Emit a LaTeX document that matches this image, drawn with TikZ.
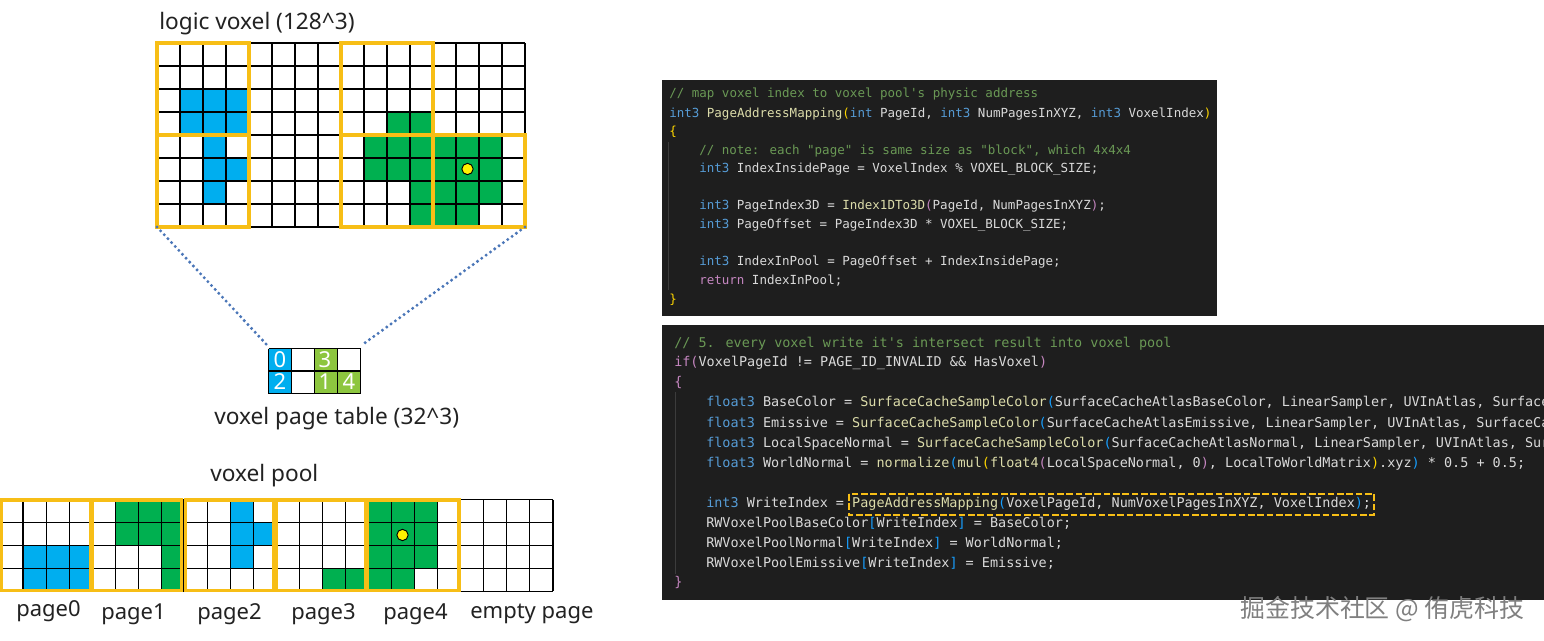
\documentclass[tikz,border=0pt]{standalone}
\usepackage{fontspec}
\setmainfont{Noto Sans}
\newfontfamily\codefont{DejaVu Sans Mono}
\newfontfamily\cjkfont{Noto Sans CJK SC}
\definecolor{bluec}{HTML}{00AEEF}
\definecolor{greenc}{HTML}{00B050}
\definecolor{lgreenc}{HTML}{8DC63F}
\definecolor{orangec}{HTML}{F7BE16}
\definecolor{dotc}{HTML}{4A76B8}
\definecolor{labelc}{HTML}{222222}
\definecolor{panelc}{HTML}{1E1E1E}
\definecolor{guidec}{HTML}{3C3C3C}
\definecolor{codec}{HTML}{DADADA}
\definecolor{kwc}{HTML}{569CD6}
\definecolor{fnc}{HTML}{DCDCAA}
\definecolor{cmc}{HTML}{6A9955}
\definecolor{goldc}{HTML}{FFD700}
\definecolor{purc}{HTML}{C586C0}
\definecolor{bluepc}{HTML}{179FFF}
\newcommand{\ckw}[1]{\textcolor{kwc}{#1}}
\newcommand{\cfn}[1]{\textcolor{fnc}{#1}}
\newcommand{\ccm}[1]{\textcolor{cmc}{#1}}
\newcommand{\cgo}[1]{\textcolor{goldc}{#1}}
\newcommand{\cpu}[1]{\textcolor{purc}{#1}}
\newcommand{\cbl}[1]{\textcolor{bluepc}{#1}}
\tikzset{
  x=0.75pt,y=-0.75pt,
  lbl/.style={inner sep=0pt,text=labelc,font=\fontsize{16.5pt}{18pt}\selectfont},
  headlbl/.style={inner sep=0pt,text=labelc,font=\fontsize{17pt}{19pt}\selectfont},
  digit/.style={inner sep=0pt,text=white,font=\fontsize{16.5pt}{18pt}\selectfont},
  gridline/.style={black,line width=0.85pt},
  pagebox/.style={orangec,line width=2.4pt},
  dotline/.style={dotc,line width=2.5pt,line cap=round,dash pattern=on 0pt off 4pt},
  codea/.style={inner sep=0pt,anchor=base west,text=codec,font=\codefont\fontsize{9.38pt}{11pt}\selectfont},
  codeb/.style={inner sep=0pt,anchor=base west,text=codec,font=\codefont\fontsize{10.1pt}{12pt}\selectfont},
  guide/.style={guidec,line width=0.75pt},
  spot/.style={circle,draw=black,fill=yellow,line width=0.7pt,inner sep=0pt,minimum size=8.5pt},
}
\begin{document}
\begin{tikzpicture}
\useasboundingbox (0,0) rectangle (1544,641);
\fill[white] (0,0) rectangle (1544,641);
% ---------- logic voxel
\foreach \c/\r in {1/2,2/2,3/2,1/3,2/3,3/3,2/4,2/5,3/5,2/6}
  \fill[bluec] ({157+23*\c},{43+23*\r}) rectangle +(23,23);
\foreach \c/\r in {10/3,11/3,9/4,10/4,11/4,12/4,13/4,14/4,9/5,10/5,11/5,12/5,13/5,14/5,11/6,12/6,13/6,14/6,11/7,12/7,13/7}
  \fill[greenc] ({157+23*\c},{43+23*\r}) rectangle +(23,23);
\foreach \i in {0,...,16} \draw[gridline] ({157+23*\i},43) -- ({157+23*\i},227);
\foreach \i in {0,...,8} \draw[gridline] (157,{43+23*\i}) -- (525,{43+23*\i});
\foreach \x/\y in {157/43,341/43,157/135,341/135,433/135}
  \draw[pagebox] (\x,\y) rectangle +(92,92);
\node[spot] (dotlogic) at (467.5,169) {};
\coordinate (logicSW) at (157,227);
\coordinate (logicSE) at (525,227);
\node[headlbl,anchor=base west] (logiclabel) at (159,30) {logic voxel (128\textasciicircum3)};
% ---------- page table
\foreach \c/\r in {0/0,0/1}
  \fill[bluec] ({268.5+23*\c},{348.5+22.5*\r}) rectangle +(23,22.5);
\foreach \c/\r in {2/0,2/1,3/1}
  \fill[lgreenc] ({268.5+23*\c},{348.5+22.5*\r}) rectangle +(23,22.5);
\foreach \i in {0,...,4} \draw[gridline] ({268.5+23*\i},348.5) -- ({268.5+23*\i},393.5);
\foreach \i in {0,...,2} \draw[gridline] (268.5,{348.5+22.5*\i}) -- (360.5,{348.5+22.5*\i});
\node[digit] (pt0) at (280,360) {0};
\node[digit] (pt3) at (325,360) {3};
\node[digit] (pt2) at (280,382) {2};
\node[digit] (pt1) at (325,382) {1};
\node[digit] (pt4) at (349,382) {4};
\coordinate (tableNW) at (267,345);
\coordinate (tableNE) at (362,345);
\draw[dotline] (logicSW) -- (tableNW);
\draw[dotline] (logicSE) -- (tableNE);
\node[headlbl,anchor=base west] (tablelabel) at (214,424) {voxel page table (32\textasciicircum3)};
% ---------- voxel pool
\node[headlbl,anchor=base west] (poollabel) at (210,481) {voxel pool};
\foreach \c/\r in {1/2,2/2,3/2,1/3,2/3,3/3,10/0,10/1,11/1,10/2}
  \fill[bluec] ({0+23*\c},{499.5+22.9*\r}) rectangle +(23,22.9);
\foreach \c/\r in {5/0,6/0,7/0,5/1,6/1,7/1,7/2,7/3,14/3,15/3,16/0,17/0,18/0,16/1,17/1,18/1,16/2,17/2,18/2,16/3,17/3}
  \fill[greenc] ({0+23*\c},{499.5+22.9*\r}) rectangle +(23,22.9);
\foreach \i in {0,...,24} \draw[gridline] ({0+23.04*\i},499.5) -- ({0+23.04*\i},591);
\foreach \i in {0,...,4} \draw[gridline] (0,{499.5+22.9*\i}) -- (553,{499.5+22.9*\i});
\foreach \xa/\xb in {1.5/90.5,92.5/181.5,185.5/274,276/366,367.5/459}
  \draw[pagebox] (\xa,500) rectangle (\xb,590.5);
\draw[gridline] (183.5,499.5) -- (183.5,591);
\node[spot] (dotpool) at (402.5,535) {};
\node[lbl,anchor=base west] (page0) at (16,616) {page0};
\node[lbl,anchor=base west] (page1) at (101,619) {page1};
\node[lbl,anchor=base west] (page2) at (197,619) {page2};
\node[lbl,anchor=base west] (page3) at (291,619) {page3};
\node[lbl,anchor=base west] (page4) at (383,619) {page4};
\node[lbl,anchor=base west] (emptypage) at (470,618) {empty page};
% ---------- code panel 1
\fill[panelc] (662,80) rectangle (1217,316);
\draw[guide] (668,142) -- (668,290);
\node[codea] (a1) at (669,98) {\ccm{// map voxel index to voxel pool's physic address}};
\node[codea] (a2) at (669,117.5) {\ckw{int3} \cfn{PageAddressMapping}\cgo{(}\ckw{int} PageId, \ckw{int3} NumPagesInXYZ, \ckw{int3} VoxelIndex\cgo{)}};
\node[codea] (a3) at (669,136) {\cgo{\{}};
\node[codea] (a4) at (699,154.5) {\ccm{// note: each "page" is same size as "block", which 4x4x4}};
\node[codea] (a5) at (699,173) {\ckw{int3} IndexInsidePage = VoxelIndex \% VOXEL\_BLOCK\_SIZE;};
\node[codea] (a6) at (699,210) {\ckw{int3} PageIndex3D = \cfn{Index1DTo3D}\cpu{(}PageId, NumPagesInXYZ\cpu{)};};
\node[codea] (a7) at (699,229) {\ckw{int3} PageOffset = PageIndex3D * VOXEL\_BLOCK\_SIZE;};
\node[codea] (a8) at (699,266) {\ckw{int3} IndexInPool = PageOffset + IndexInsidePage;};
\node[codea] (a9) at (699,285) {\cpu{return} IndexInPool;};
\node[codea] (a10) at (669,303.5) {\cgo{\}}};
% ---------- code panel 2
\fill[panelc] (662,325) rectangle (1544,600);
\draw[guide] (675,392) -- (675,574);
\begin{scope}
\clip (662,325) rectangle (1544,600);
\node[codeb] (b1) at (674,347) {\ccm{// 5. every voxel write it's intersect result into voxel pool}};
\node[codeb] (b2) at (674,366.5) {\cpu{if(}VoxelPageId != PAGE\_ID\_INVALID \&\& HasVoxel\cpu{)}};
\node[codeb] (b3) at (674,386.5) {\cpu{\{}};
\node[codeb] (b4) at (706,406.5) {\ckw{float3} BaseColor = \cfn{SurfaceCacheSampleColor}\cbl{(}SurfaceCacheAtlasBaseColor, LinearSampler, UVInAtlas, Surface};
\node[codeb] (b5) at (706,427) {\ckw{float3} Emissive = \cfn{SurfaceCacheSampleColor}\cbl{(}SurfaceCacheAtlasEmissive, LinearSampler, UVInAtlas, SurfaceCa};
\node[codeb] (b6) at (706,447) {\ckw{float3} LocalSpaceNormal = \cfn{SurfaceCacheSampleColor}\cbl{(}SurfaceCacheAtlasNormal, LinearSampler, UVInAtlas, Sur};
\node[codeb] (b7) at (706,467) {\ckw{float3} WorldNormal = \cfn{normalize}\cbl{(}\cfn{mul}\cgo{(}\cfn{float4}\cpu{(}LocalSpaceNormal, 0\cpu{)}, LocalToWorldMatrix\cgo{)}.xyz\cbl{)} * 0.5 + 0.5;};
\node[codeb] (b8) at (706,507.5) {\ckw{int3} WriteIndex = \cfn{PageAddressMapping}\cbl{(}VoxelPageId, NumVoxelPagesInXYZ, VoxelIndex\cbl{)};};
\node[codeb] (b9) at (706,527.5) {RWVoxelPoolBaseColor\cbl{[}WriteIndex\cbl{]} = BaseColor;};
\node[codeb] (b10) at (706,547) {RWVoxelPoolNormal\cbl{[}WriteIndex\cbl{]} = WorldNormal;};
\node[codeb] (b11) at (706,567) {RWVoxelPoolEmissive\cbl{[}WriteIndex\cbl{]} = Emissive;};
\node[codeb] (b12) at (674,586.5) {\cpu{\}}};
\end{scope}
\draw[orangec,line width=2.2pt,dash pattern=on 5pt off 2pt] (849,494) rectangle (1374,515);
% ---------- watermark
\node[inner sep=0pt,anchor=base west,text=black!50,font=\cjkfont\fontsize{18.7pt}{20pt}\selectfont] (mark) at (1240,617) {掘金技术社区 @ 侑虎科技};
\end{tikzpicture}
\end{document}
